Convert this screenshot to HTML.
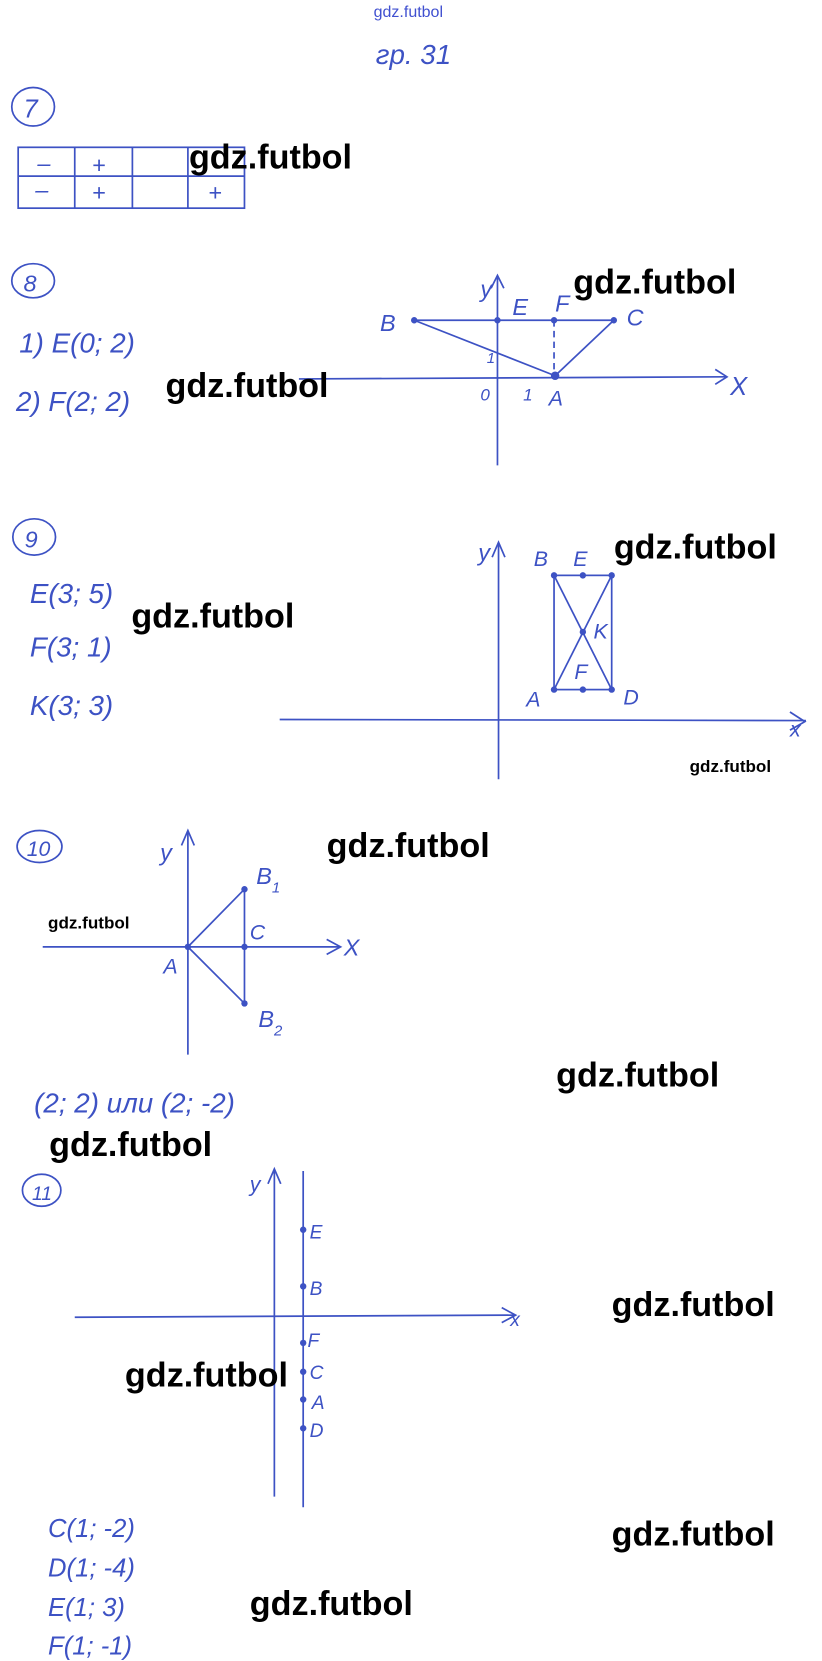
<!DOCTYPE html>
<html><head><meta charset="utf-8"><style>
html,body{margin:0;padding:0;background:#fff;width:822px;height:1661px;overflow:hidden}
svg{display:block}
.h{fill:#3d52c4;font-family:"Liberation Sans",sans-serif;font-style:italic}
.w{fill:#000;font-family:"Liberation Sans",sans-serif;font-size:32px;font-weight:bold}
.ws{fill:#000;font-family:"Liberation Sans",sans-serif;font-size:16px;font-weight:bold}
line,polyline,path,rect,circle.o,ellipse{stroke:#3d52c4;stroke-width:1.6;fill:none}
circle.d{fill:#3d52c4}
</style></head><body>
<svg width="822" height="1661" viewBox="0 0 770 1556" xmlns="http://www.w3.org/2000/svg">
<text x="350" y="16" font-size="15" fill="#4050d0" font-family="Liberation Sans,sans-serif">gdz.futbol</text>
<text class="h" x="352" y="60" font-size="26">гр. 31</text>

<!-- 7 -->
<ellipse cx="31" cy="100" rx="20" ry="18"/><text class="h" x="22" y="110" font-size="24">7</text>
<rect x="17" y="138" width="212" height="57"/>
<line x1="17" y1="165" x2="229" y2="165"/>
<line x1="70" y1="138" x2="70" y2="195"/><line x1="124" y1="138" x2="124" y2="195"/><line x1="176" y1="138" x2="176" y2="195"/>
<text class="h" x="35" y="160" font-size="22">–</text><text class="h" x="86" y="162" font-size="22">+</text>
<text class="h" x="33" y="185" font-size="22">–</text><text class="h" x="86" y="188" font-size="22">+</text><text class="h" x="195" y="188" font-size="22">+</text>
<text class="w" x="177" y="158">gdz.futbol</text>

<!-- 8 -->
<ellipse cx="31" cy="263" rx="20" ry="16"/><text class="h" x="22" y="273" font-size="22">8</text>
<text class="h" x="18" y="330" font-size="26">1) E(0; 2)</text>
<text class="h" x="15" y="385" font-size="26">2) F(2; 2)</text>
<line x1="280" y1="355" x2="680" y2="353"/><polyline points="670,346 681,353 670,360"/>
<text class="h" x="684" y="370" font-size="24">X</text>
<line x1="466" y1="260" x2="466" y2="436"/><polyline points="460,270 466,258 472,270"/>
<text class="h" x="450" y="278" font-size="22">y</text>
<line x1="388" y1="300" x2="575" y2="300"/>
<line x1="388" y1="300" x2="520" y2="352"/><line x1="520" y1="352" x2="575" y2="300"/>
<line x1="519" y1="300" x2="519" y2="352" stroke-dasharray="6,4"/>
<circle class="d" cx="388" cy="300" r="3"/><circle class="d" cx="466" cy="300" r="3"/><circle class="d" cx="519" cy="300" r="3"/><circle class="d" cx="575" cy="300" r="3"/><circle class="d" cx="520" cy="352" r="4"/>
<text class="h" x="356" y="310" font-size="22">B</text><text class="h" x="480" y="295" font-size="22">E</text><text class="h" x="520" y="292" font-size="22">F</text><text class="h" x="587" y="305" font-size="22">C</text>
<text class="h" x="450" y="375" font-size="16">0</text><text class="h" x="490" y="375" font-size="16">1</text><text class="h" x="514" y="380" font-size="20">A</text><text class="h" x="456" y="340" font-size="14">1</text>
<text class="w" x="537" y="275">gdz.futbol</text>
<text class="w" x="155" y="372">gdz.futbol</text>

<!-- 9 -->
<ellipse cx="32" cy="503" rx="20" ry="17"/><text class="h" x="23" y="513" font-size="22">9</text>
<text class="h" x="28" y="565" font-size="26">E(3; 5)</text>
<text class="h" x="28" y="615" font-size="26">F(3; 1)</text>
<text class="h" x="28" y="670" font-size="26">K(3; 3)</text>
<line x1="262" y1="674" x2="755" y2="675"/><polyline points="740,667 754,676 740,684"/><text class="h" x="740" y="690" font-size="20">x</text>
<line x1="467" y1="510" x2="467" y2="730"/><polyline points="461,522 467,508 473,522"/><text class="h" x="448" y="525" font-size="22">y</text>
<rect x="519" y="539" width="54" height="107"/>
<line x1="519" y1="539" x2="573" y2="646"/><line x1="573" y1="539" x2="519" y2="646"/>
<circle class="d" cx="519" cy="539" r="3"/><circle class="d" cx="546" cy="539" r="3"/><circle class="d" cx="573" cy="539" r="3"/><circle class="d" cx="546" cy="592" r="3"/><circle class="d" cx="519" cy="646" r="3"/><circle class="d" cx="546" cy="646" r="3"/><circle class="d" cx="573" cy="646" r="3"/>
<text class="h" x="500" y="530" font-size="20">B</text><text class="h" x="537" y="530" font-size="20">E</text><text class="h" x="556" y="598" font-size="20">K</text><text class="h" x="538" y="636" font-size="20">F</text><text class="h" x="493" y="662" font-size="20">A</text><text class="h" x="584" y="660" font-size="20">D</text>
<text class="w" x="575" y="523">gdz.futbol</text>
<text class="w" x="123" y="588">gdz.futbol</text>
<text class="ws" x="646" y="723">gdz.futbol</text>

<!-- 10 -->
<ellipse cx="37" cy="793" rx="21" ry="15"/><text class="h" x="25" y="802" font-size="20">10</text>
<line x1="40" y1="887" x2="318" y2="887"/><polyline points="306,880 319,887 306,894"/><text class="h" x="322" y="895" font-size="22">X</text>
<line x1="176" y1="780" x2="176" y2="988"/><polyline points="170,792 176,778 182,792"/><text class="h" x="150" y="806" font-size="22">y</text>
<line x1="176" y1="887" x2="229" y2="833"/><line x1="176" y1="887" x2="229" y2="940"/><line x1="229" y1="833" x2="229" y2="940"/>
<circle class="d" cx="176" cy="887" r="3"/><circle class="d" cx="229" cy="833" r="3"/><circle class="d" cx="229" cy="887" r="3"/><circle class="d" cx="229" cy="940" r="3"/>
<text class="h" x="240" y="828" font-size="22">B<tspan font-size="14" dy="8">1</tspan></text>
<text class="h" x="234" y="880" font-size="20">C</text><text class="h" x="153" y="912" font-size="20">A</text>
<text class="h" x="242" y="962" font-size="22">B<tspan font-size="14" dy="8">2</tspan></text>
<text class="h" x="32" y="1042" font-size="26">(2; 2) или (2; -2)</text>
<text class="w" x="306" y="803">gdz.futbol</text>
<text class="ws" x="45" y="870">gdz.futbol</text>
<text class="w" x="521" y="1018">gdz.futbol</text>
<text class="w" x="46" y="1083">gdz.futbol</text>

<!-- 11 -->
<ellipse cx="39" cy="1115" rx="18" ry="15"/><text class="h" x="30" y="1124" font-size="18">11</text>
<line x1="70" y1="1234" x2="482" y2="1232"/><polyline points="470,1225 483,1232 470,1239"/><text class="h" x="478" y="1242" font-size="18">x</text>
<line x1="257" y1="1097" x2="257" y2="1402"/><polyline points="251,1109 257,1095 263,1109"/><text class="h" x="234" y="1116" font-size="20">y</text>
<line x1="284" y1="1097" x2="284" y2="1412"/>
<circle class="d" cx="284" cy="1152" r="3"/><circle class="d" cx="284" cy="1205" r="3"/><circle class="d" cx="284" cy="1258" r="3"/><circle class="d" cx="284" cy="1285" r="3"/><circle class="d" cx="284" cy="1311" r="3"/><circle class="d" cx="284" cy="1338" r="3"/>
<text class="h" x="290" y="1160" font-size="18">E</text><text class="h" x="290" y="1213" font-size="18">B</text><text class="h" x="288" y="1262" font-size="18">F</text><text class="h" x="290" y="1292" font-size="18">C</text><text class="h" x="292" y="1320" font-size="18">A</text><text class="h" x="290" y="1346" font-size="18">D</text>
<text class="h" x="45" y="1440" font-size="24">C(1; -2)</text>
<text class="h" x="45" y="1477" font-size="24">D(1; -4)</text>
<text class="h" x="45" y="1514" font-size="24">E(1; 3)</text>
<text class="h" x="45" y="1550" font-size="24">F(1; -1)</text>
<text class="w" x="573" y="1233">gdz.futbol</text>
<text class="w" x="117" y="1299">gdz.futbol</text>
<text class="w" x="573" y="1448">gdz.futbol</text>
<text class="w" x="234" y="1513">gdz.futbol</text>
</svg>
</body></html>
